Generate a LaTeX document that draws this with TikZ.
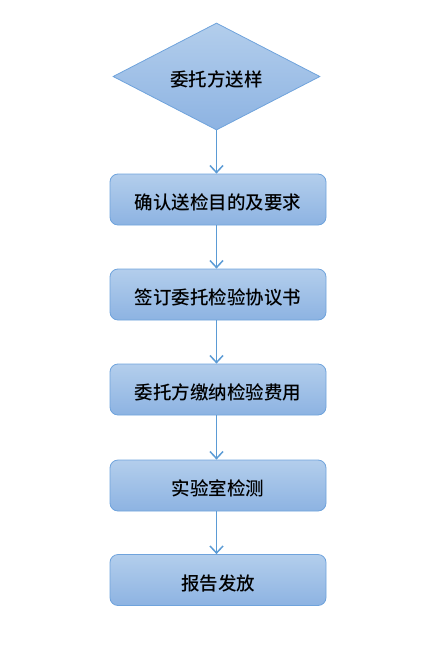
\documentclass[tikz,border=0pt]{standalone}
\usepackage{fontspec}
\newfontfamily\cjk{Noto Sans CJK SC}[BoldFont={Noto Sans CJK SC Medium}]
\usetikzlibrary{shapes.geometric,arrows.meta}
\definecolor{edge}{HTML}{6FA3DC}
\definecolor{topc}{HTML}{B3CEEC}
\definecolor{botc}{HTML}{8DB3E2}
\definecolor{linec}{HTML}{5B9BD5}
\newcommand{\dtx}[1]{\raisebox{-3pt}[\height][\depth]{#1}}
\tikzset{
  txt/.style={font=\cjk\bfseries\fontsize{18.5}{21}\selectfont},
  box/.style={txt,draw=edge,line width=0.8pt,rounded corners=8pt,top color=topc,bottom color=botc,
    minimum width=216pt,minimum height=51pt,inner sep=0pt},
  dia/.style={txt,draw=edge,line width=0.8pt,diamond,top color=topc,bottom color=botc,
    minimum width=207pt,minimum height=107pt,inner sep=0pt,aspect=2},
  arr/.style={draw=linec,line width=1.5pt,-{Straight Barb[length=7pt,width=13pt,line width=1.5pt]}}
}
\begin{document}
\begin{tikzpicture}[x=1pt,y=-1pt]
\useasboundingbox (0,0) rectangle (428,654);
\node[dia] (d) at (216.5,76.5) {\dtx{委托方送样}};
\node[box] (b1) at (218,199.5) {\dtx{确认送检目的及要求}};
\node[box] (b2) at (218,294.5) {\dtx{签订委托检验协议书}};
\node[box] (b3) at (218,389.5) {\dtx{委托方缴纳检验费用}};
\node[box] (b4) at (218,485.5) {\dtx{实验室检测}};
\node[box] (b5) at (218,580) {\dtx{报告发放}};
\draw[arr] (d.south) -- (d.south |- b1.north);
\draw[arr] (b1.south -| d.south) -- (d.south |- b2.north);
\draw[arr] (b2.south -| d.south) -- (d.south |- b3.north);
\draw[arr] (b3.south -| d.south) -- (d.south |- b4.north);
\draw[arr] (b4.south -| d.south) -- (d.south |- b5.north);
\end{tikzpicture}
\end{document}
